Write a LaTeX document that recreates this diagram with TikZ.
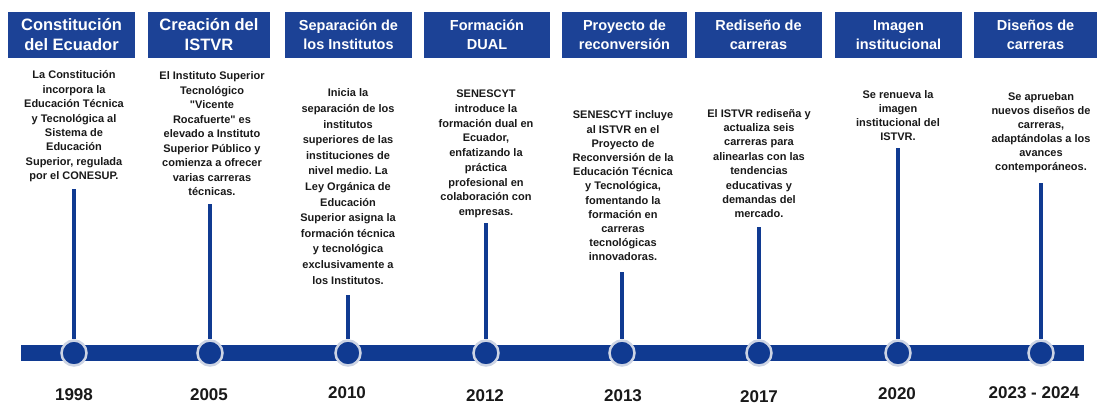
\documentclass[tikz,border=0pt]{standalone}
\usepackage{fontspec}
\setmainfont{Liberation Sans}[Ligatures=TeXOff]
\frenchspacing
\definecolor{hdr}{RGB}{28,66,150}
\definecolor{tl}{RGB}{16,58,145}
\definecolor{halo}{RGB}{205,212,228}
\definecolor{txt}{RGB}{25,25,25}
\begin{document}
\begin{tikzpicture}[x=1pt,y=-1pt,
  hdrbox/.style={fill=hdr, text=white, align=center, inner sep=0, minimum height=46},
  hbig/.style={font=\bfseries\fontsize{16.5}{20}\selectfont},
  hsmall/.style={font=\bfseries\fontsize{14.5}{19}\selectfont},
  body/.style={text=txt, align=center, inner sep=0, font=\bfseries\fontsize{11}{#1}\selectfont},
  dot/.style={circle, fill=tl, draw=halo, line width=2.5pt, minimum size=25, inner sep=0},
  stem/.style={draw=tl, line width=4.5pt},
  bar/.style={fill=tl},
  year/.style={font=\bfseries\fontsize{17}{20}\selectfont, text=txt}]
\useasboundingbox (0,0) rectangle (1099,405);

% headers
\node[hdrbox,hbig,minimum width=127] (h1) at (71.5,35) {Constitución\\del Ecuador};
\node[hdrbox,hbig,minimum width=122] (h2) at (209,35) {Creación del\\ISTVR};
\node[hdrbox,hsmall,minimum width=127] (h3) at (348.5,35) {Separación de\\los Institutos};
\node[hdrbox,hsmall,minimum width=126] (h4) at (487,35) {Formación\\DUAL};
\node[hdrbox,hsmall,minimum width=125] (h5) at (624.5,35) {Proyecto de\\reconversión};
\node[hdrbox,hsmall,minimum width=127] (h6) at (758.5,35) {Rediseño de\\carreras};
\node[hdrbox,hsmall,minimum width=127] (h7) at (898.5,35) {Imagen\\institucional};
\node[hdrbox,hsmall,minimum width=123] (h8) at (1035.5,35) {Diseños de\\carreras};

% bar
\path[bar] (21,345) rectangle (1084,361);

% stem tops
\coordinate (s1) at (74,189);
\coordinate (s2) at (210,204);
\coordinate (s3) at (348,295);
\coordinate (s4) at (486,223);
\coordinate (s5) at (622,272);
\coordinate (s6) at (759,227);
\coordinate (s7) at (898,148);
\coordinate (s8) at (1041,183);

% dots
\node[dot] (d1) at (74,353) {};
\node[dot] (d2) at (210,353) {};
\node[dot] (d3) at (348,353) {};
\node[dot] (d4) at (486,353) {};
\node[dot] (d5) at (622,353) {};
\node[dot] (d6) at (759,353) {};
\node[dot] (d7) at (898,353) {};
\node[dot] (d8) at (1041,353) {};

\foreach \i in {1,...,8} {\draw[stem] (s\i) -- (d\i.north);}

% body texts
\node[body=14.4] (t1) at (74,126.5) {La Constitución\\incorpora la\\Educación Técnica\\y Tecnológica al\\Sistema de\\Educación\\Superior, regulada\\por el CONESUP.};
\node[body=14.5] (t2) at (212,134) {El Instituto Superior\\Tecnológico\\"Vicente\\Rocafuerte" es\\elevado a Instituto\\Superior Público y\\comienza a ofrecer\\varias carreras\\técnicas.};
\node[body=15.6] (t3) at (348,186.5) {Inicia la\\separación de los\\institutos\\superiores de las\\instituciones de\\nivel medio. La\\Ley Orgánica de\\Educación\\Superior asigna la\\formación técnica\\y tecnológica\\exclusivamente a\\los Institutos.};
\node[body=14.75] (t4) at (486,154) {SENESCYT\\introduce la\\formación dual en\\Ecuador,\\enfatizando la\\práctica\\profesional en\\colaboración con\\empresas.};
\node[body=14.2] (t5) at (623,186) {SENESCYT incluye\\al ISTVR en el\\Proyecto de\\Reconversión de la\\Educación Técnica\\y Tecnológica,\\fomentando la\\formación en\\carreras\\tecnológicas\\innovadoras.};
\node[body=14.4] (t6) at (759,163.5) {El ISTVR rediseña y\\actualiza seis\\carreras para\\alinearlas con las\\tendencias\\educativas y\\demandas del\\mercado.};
\node[body=14] (t7) at (898,116) {Se renueva la\\imagen\\institucional del\\ISTVR.};
\node[body=14] (t8) at (1041,133) {Se aprueban\\nuevos diseños de\\carreras,\\adaptándolas a los\\avances\\contemporáneos.};

% years
\node[year] (y1) at (74,395) {1998};
\node[year] (y2) at (209,395) {2005};
\node[year] (y3) at (347,393) {2010};
\node[year] (y4) at (485,395.5) {2012};
\node[year] (y5) at (623,395.5) {2013};
\node[year] (y6) at (759,396.5) {2017};
\node[year] (y7) at (897,394) {2020};
\node[year] (y8) at (1034,393) {2023 - 2024};
\end{tikzpicture}
\end{document}
